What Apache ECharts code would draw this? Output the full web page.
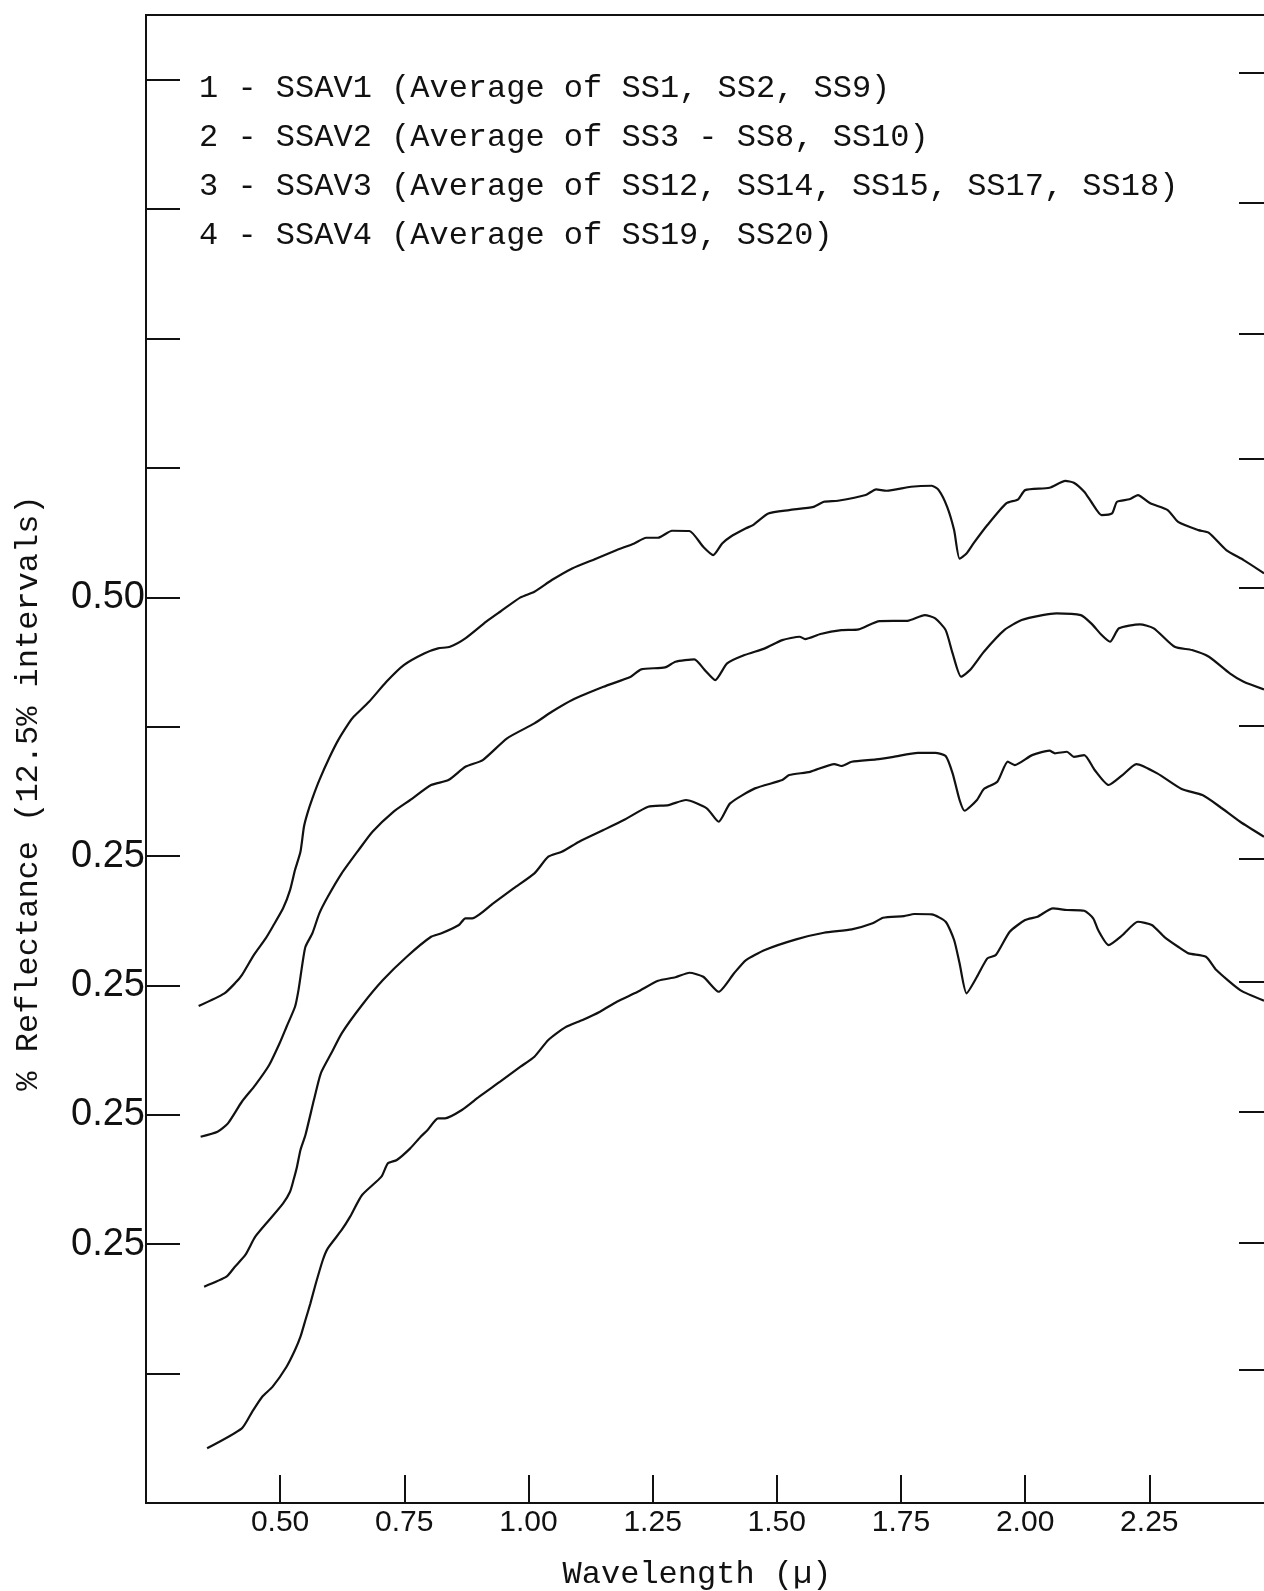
<!DOCTYPE html>
<html>
<head>
<meta charset="utf-8">
<title>SSAV reflectance spectra</title>
<script src="https://cdn.jsdelivr.net/npm/echarts@6/dist/echarts.min.js"></script>
<style>
  html, body { margin: 0; padding: 0; background: #fff; }
  #chart { width: 1264px; height: 1591px; }
</style>
</head>
<body>
<div id="chart"></div>
<script>
// legend texts, one per curve (top curve first)
const seriesNames = [
  '1 - SSAV1 (Average of SS1, SS2, SS9)',
  '2 - SSAV2 (Average of SS3 - SS8, SS10)',
  '3 - SSAV3 (Average of SS12, SS14, SS15, SS17, SS18)',
  '4 - SSAV4 (Average of SS19, SS20)'
];

// curve 1 - wavelength (micron) / offset reflectance (in 12.5% steps)
const wl1 = [0.336, 0.388, 0.409, 0.423, 0.447, 0.471, 0.485, 0.506, 0.520, 0.530, 0.541, 0.548, 0.555, 0.565, 0.579,
  0.600, 0.617, 0.638, 0.648, 0.679, 0.714, 0.749, 0.790, 0.818, 0.842, 0.873, 0.915, 0.943, 0.984, 1.012,
  1.047, 1.088, 1.137, 1.178, 1.213, 1.237, 1.261, 1.289, 1.324, 1.352, 1.372, 1.390, 1.407, 1.438, 1.452,
  1.483, 1.525, 1.574, 1.595, 1.623, 1.679, 1.700, 1.721, 1.770, 1.812, 1.826, 1.843, 1.857, 1.868, 1.882,
  1.896, 1.924, 1.962, 1.986, 2.000, 2.049, 2.081, 2.098, 2.119, 2.133, 2.154, 2.175, 2.185, 2.210, 2.227,
  2.252, 2.287, 2.308, 2.349, 2.370, 2.405, 2.440, 2.481];
const refl1 = [3.841, 3.939, 4.016, 4.080, 4.235, 4.364, 4.454, 4.596, 4.737, 4.892, 5.033, 5.226, 5.330, 5.446, 5.587,
  5.767, 5.896, 6.025, 6.076, 6.192, 6.347, 6.476, 6.566, 6.605, 6.617, 6.682, 6.811, 6.888, 6.999, 7.043,
  7.133, 7.223, 7.300, 7.365, 7.416, 7.460, 7.460, 7.514, 7.512, 7.390, 7.326, 7.416, 7.468, 7.533, 7.558,
  7.648, 7.674, 7.699, 7.738, 7.746, 7.790, 7.834, 7.823, 7.854, 7.862, 7.828, 7.699, 7.519, 7.298, 7.339,
  7.416, 7.558, 7.726, 7.757, 7.828, 7.846, 7.900, 7.885, 7.815, 7.738, 7.635, 7.648, 7.738, 7.757, 7.790,
  7.726, 7.674, 7.583, 7.519, 7.498, 7.365, 7.287, 7.185];

// curve 2
const wl2 = [0.340, 0.374, 0.395, 0.423, 0.450, 0.478, 0.499, 0.513, 0.530, 0.537, 0.544, 0.551, 0.565, 0.579, 0.596,
  0.624, 0.658, 0.686, 0.728, 0.762, 0.804, 0.839, 0.873, 0.908, 0.957, 1.012, 1.047, 1.088, 1.151, 1.206,
  1.227, 1.275, 1.296, 1.334, 1.355, 1.376, 1.400, 1.435, 1.476, 1.511, 1.546, 1.557, 1.588, 1.630, 1.665,
  1.707, 1.763, 1.798, 1.819, 1.840, 1.854, 1.871, 1.889, 1.917, 1.958, 1.993, 2.035, 2.063, 2.112, 2.133,
  2.154, 2.171, 2.189, 2.231, 2.259, 2.301, 2.336, 2.370, 2.412, 2.440, 2.481];
const refl2 = [2.831, 2.869, 2.934, 3.101, 3.230, 3.385, 3.553, 3.681, 3.835, 3.964, 4.144, 4.299, 4.403, 4.557, 4.685,
  4.866, 5.046, 5.188, 5.342, 5.433, 5.549, 5.587, 5.690, 5.742, 5.910, 6.025, 6.115, 6.206, 6.308, 6.386,
  6.443, 6.458, 6.502, 6.520, 6.437, 6.360, 6.489, 6.553, 6.605, 6.669, 6.695, 6.677, 6.716, 6.746, 6.752,
  6.816, 6.818, 6.862, 6.837, 6.746, 6.566, 6.386, 6.437, 6.579, 6.746, 6.824, 6.862, 6.876, 6.862, 6.798,
  6.708, 6.656, 6.760, 6.791, 6.760, 6.617, 6.592, 6.540, 6.412, 6.347, 6.288];

// curve 3
const wl3 = [0.347, 0.392, 0.409, 0.430, 0.450, 0.478, 0.506, 0.520, 0.527, 0.534, 0.541, 0.551, 0.568, 0.582, 0.603,
  0.624, 0.665, 0.707, 0.755, 0.804, 0.825, 0.860, 0.873, 0.887, 0.929, 0.970, 1.012, 1.040, 1.067, 1.102,
  1.151, 1.192, 1.241, 1.282, 1.317, 1.359, 1.383, 1.406, 1.456, 1.511, 1.525, 1.567, 1.616, 1.630, 1.651,
  1.700, 1.735, 1.784, 1.819, 1.840, 1.854, 1.868, 1.878, 1.903, 1.917, 1.944, 1.965, 1.979, 2.014, 2.049,
  2.060, 2.084, 2.098, 2.119, 2.140, 2.168, 2.196, 2.224, 2.266, 2.315, 2.357, 2.392, 2.433, 2.481];
const refl3 = [1.672, 1.749, 1.826, 1.917, 2.058, 2.187, 2.316, 2.406, 2.496, 2.599, 2.728, 2.844, 3.114, 3.321, 3.475,
  3.630, 3.849, 4.042, 4.222, 4.376, 4.403, 4.467, 4.519, 4.519, 4.634, 4.750, 4.866, 4.995, 5.033, 5.111,
  5.201, 5.278, 5.381, 5.394, 5.433, 5.369, 5.265, 5.407, 5.523, 5.587, 5.626, 5.651, 5.711, 5.696, 5.729,
  5.747, 5.767, 5.798, 5.798, 5.773, 5.639, 5.433, 5.350, 5.433, 5.518, 5.574, 5.729, 5.703, 5.780, 5.814,
  5.794, 5.806, 5.767, 5.780, 5.665, 5.549, 5.626, 5.711, 5.639, 5.518, 5.471, 5.381, 5.265, 5.149];

// curve 4
const wl4 = [0.353, 0.423, 0.444, 0.464, 0.485, 0.513, 0.530, 0.541, 0.551, 0.561, 0.572, 0.586, 0.596, 0.624, 0.641,
  0.665, 0.704, 0.717, 0.735, 0.762, 0.783, 0.797, 0.818, 0.832, 0.866, 0.901, 0.943, 0.984, 1.012, 1.040,
  1.074, 1.109, 1.144, 1.178, 1.220, 1.261, 1.296, 1.324, 1.352, 1.383, 1.414, 1.438, 1.476, 1.539, 1.595,
  1.651, 1.693, 1.714, 1.756, 1.777, 1.812, 1.840, 1.857, 1.868, 1.882, 1.903, 1.924, 1.941, 1.969, 2.000,
  2.025, 2.056, 2.084, 2.119, 2.137, 2.147, 2.168, 2.196, 2.227, 2.255, 2.280, 2.308, 2.329, 2.364, 2.385,
  2.433, 2.481];
const refl4 = [0.423, 0.577, 0.706, 0.821, 0.899, 1.053, 1.182, 1.285, 1.414, 1.543, 1.698, 1.878, 1.968, 2.110, 2.213,
  2.380, 2.522, 2.625, 2.651, 2.741, 2.831, 2.883, 2.973, 2.973, 3.037, 3.140, 3.256, 3.372, 3.449, 3.578,
  3.676, 3.733, 3.797, 3.874, 3.951, 4.036, 4.063, 4.098, 4.067, 3.951, 4.094, 4.196, 4.274, 4.356, 4.407,
  4.433, 4.480, 4.523, 4.536, 4.552, 4.549, 4.492, 4.351, 4.171, 3.939, 4.067, 4.209, 4.235, 4.415, 4.505,
  4.531, 4.596, 4.583, 4.577, 4.519, 4.428, 4.312, 4.389, 4.492, 4.467, 4.376, 4.299, 4.248, 4.222, 4.119,
  3.964, 3.882];

// axes
const xTickValues = [0.5, 0.75, 1.0, 1.25, 1.5, 1.75, 2.0, 2.25];
const xTickLabels = ['0.50', '0.75', '1.00', '1.25', '1.50', '1.75', '2.00', '2.25'];
const yTickValues = [1, 2, 3, 4, 5, 6, 7, 8, 9, 10, 11];
const yLabelValues = [2, 3, 4, 5, 7];
const yLabelTexts = ['0.25', '0.25', '0.25', '0.25', '0.50'];
// the right-hand ticks of the scan sit a little higher than the left ones
const yRightTickValues = [1.03, 2.01, 3.02, 4.03, 4.98, 6.01, 7.07, 8.07, 9.04, 10.05, 11.05];

const curves = [[wl1, refl1], [wl2, refl2], [wl3, refl3], [wl4, refl4]];

const ink = '#111';
const monoFont = "'Liberation Mono', 'DejaVu Sans Mono', monospace";
const numFont = "'Liberation Sans', Arial, sans-serif";

function pickLabel(values, texts, v) {
  const i = values.findIndex(t => Math.abs(t - v) < 1e-6);
  return i < 0 ? '' : texts[i];
}

const chart = echarts.init(document.getElementById('chart'));

const option = {
  animation: false,
  backgroundColor: '#fff',
  // right edge sits just past the page, the scan cuts the right axis off
  grid: {
    left: 146,
    right: -6,
    top: 15,
    bottom: 88,
    outerBoundsMode: 'none',
    show: true,
    borderColor: ink,
    borderWidth: 2,
    backgroundColor: 'transparent'
  },
  legend: {
    data: seriesNames,
    orient: 'vertical',
    left: 188,
    top: 68,
    icon: 'none',
    itemWidth: 1,
    itemHeight: 10,
    itemGap: 17,
    selectedMode: false,
    textStyle: {
      fontFamily: monoFont,
      fontSize: 32,
      lineHeight: 32,
      color: ink
    }
  },
  xAxis: {
    type: 'value',
    min: 0.23,
    max: 2.493,
    name: 'Wavelength (µ)',
    nameLocation: 'middle',
    nameGap: 56,
    nameTextStyle: {
      fontFamily: monoFont,
      fontSize: 32,
      lineHeight: 32,
      color: ink,
      padding: [0, 22, 0, 0]
    },
    axisLine: { show: true, onZero: false, lineStyle: { color: ink, width: 2 } },
    axisTick: {
      show: true,
      inside: true,
      length: 28,
      customValues: xTickValues,
      lineStyle: { color: ink, width: 2 }
    },
    axisLabel: {
      customValues: xTickValues,
      formatter: v => pickLabel(xTickValues, xTickLabels, v),
      margin: 5,
      fontFamily: numFont,
      fontSize: 30,
      color: ink
    },
    splitLine: { show: false }
  },
  yAxis: [
    {
      type: 'value',
      position: 'left',
      min: 0,
      max: 11.5,
      name: '% Reflectance (12.5% intervals)',
      nameLocation: 'middle',
      nameRotate: 90,
      nameGap: 101,
      nameTextStyle: {
        fontFamily: monoFont,
        fontSize: 32,
        lineHeight: 32,
        color: ink,
        padding: [0, 68, 0, 0]
      },
      axisLine: { show: true, onZero: false, lineStyle: { color: ink, width: 2 } },
      axisTick: {
        show: true,
        inside: true,
        length: 34,
        customValues: yTickValues,
        lineStyle: { color: ink, width: 2 }
      },
      axisLabel: {
        customValues: yLabelValues,
        formatter: v => pickLabel(yLabelValues, yLabelTexts, v),
        margin: 1,
        fontFamily: numFont,
        fontSize: 38,
        color: ink
      },
      splitLine: { show: false }
    },
    {
      type: 'value',
      position: 'right',
      min: 0,
      max: 11.5,
      axisLine: { show: true, onZero: false, lineStyle: { color: ink, width: 2 } },
      axisTick: {
        show: true,
        inside: true,
        length: 31,
        customValues: yRightTickValues,
        lineStyle: { color: ink, width: 2 }
      },
      axisLabel: { show: false },
      splitLine: { show: false }
    }
  ],
  series: curves.map((c, i) => ({
    name: seriesNames[i],
    type: 'line',
    yAxisIndex: 0,
    showSymbol: false,
    symbol: 'none',
    smooth: 0.2,
    silent: true,
    color: ink,
    lineStyle: { color: ink, width: 2.2 },
    data: c[0].map((w, j) => [w, c[1][j]])
  }))
};

chart.setOption(option);
</script>
</body>
</html>
